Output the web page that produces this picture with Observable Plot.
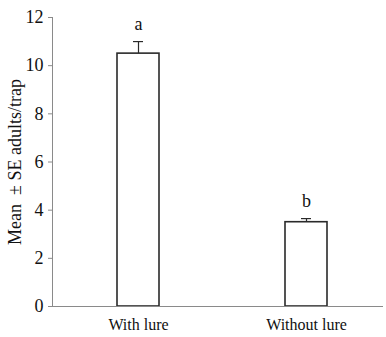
<!DOCTYPE html>
<html>
<head>
<meta charset="utf-8">
<script src="https://cdn.jsdelivr.net/npm/d3@7"></script>
<script src="https://cdn.jsdelivr.net/npm/@observablehq/plot@0.6"></script>
<style>
  body { margin: 0; background: #fff; }
  #chart svg, #chart svg text { font-family: "Liberation Serif", "Times New Roman", serif; }
</style>
</head>
<body>
<div id="chart"></div>
<script>
// Trap catches with and without lure
const treatments = ["With lure", "Without lure"];
const means = [10.5, 3.5];
const errors = [0.5, 0.15];
const letters = ["a", "b"];
const yTicks = [0, 2, 4, 6, 8, 10, 12];

const rows = treatments.map((t, i) => ({
  treatment: t,
  mean: means[i],
  top: means[i] + errors[i],
  letter: letters[i]
}));

const serif = "Liberation Serif, Times New Roman, serif";
const axisGray = "#8a8a8a";
const barStroke = "#2a2a2a";

const chart = Plot.plot({
  width: 386,
  height: 337,
  marginLeft: 52,
  marginRight: 3,
  marginTop: 17,
  marginBottom: 31,
  style: { fontFamily: serif, fontSize: "16px", color: "#111", background: "#fff" },
  x: { type: "band", domain: treatments, paddingInner: 0.751, paddingOuter: 0.355, align: 0.535 },
  y: { domain: [0, 12] },
  marks: [
    Plot.axisY({
      ticks: yTicks,
      tickSize: 4,
      tickPadding: 5,
      stroke: axisGray,
      fontSize: 18,
      fontFamily: serif,
      label: "Mean  \u00b1 SE adults/trap",
      labelAnchor: "center",
      labelArrow: "none",
      labelOffset: 44,
      fill: "#111"
    }),
    Plot.axisX({
      tickSize: 0,
      tickPadding: 12,
      fontSize: 16,
      fontFamily: serif,
      label: null,
      fill: "#111"
    }),
    Plot.frame({ anchor: "left", stroke: axisGray }),
    Plot.barY(rows, { x: "treatment", y: "mean", fill: "#fff", stroke: barStroke, strokeWidth: 1.6 }),
    Plot.ruleY([0], { stroke: axisGray }),
    Plot.ruleX(rows, { x: "treatment", y1: "mean", y2: "top", stroke: barStroke, strokeWidth: 1.2 }),
    Plot.tickY(rows, { x: "treatment", y: "top", stroke: barStroke, strokeWidth: 1.2, insetLeft: 16, insetRight: 16 }),
    Plot.text(rows, { x: "treatment", y: "top", text: "letter", dy: -17, fontSize: 18, fontFamily: serif, fill: "#111" })
  ]
});

document.getElementById("chart").append(chart);
</script>
</body>
</html>
